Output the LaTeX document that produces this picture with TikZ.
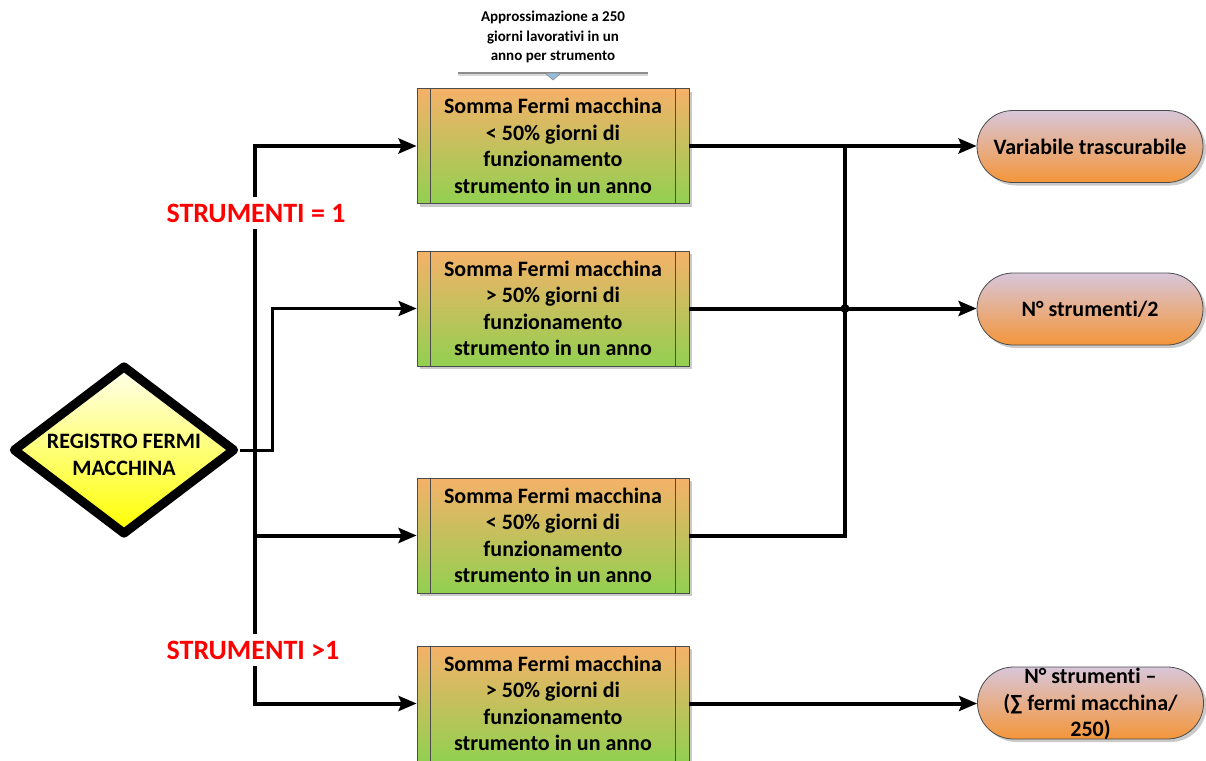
\documentclass[tikz,border=0pt]{standalone}
\usepackage{fontspec}
\setmainfont{Carlito}[Ligatures={NoCommon,NoContextual,NoRare}]
\usetikzlibrary{arrows.meta,shapes.geometric,shadows,calc}

\definecolor{procTop}{RGB}{245,177,105}
\definecolor{procBot}{RGB}{146,208,80}
\definecolor{termTop}{RGB}{216,198,218}
\definecolor{termBot}{RGB}{244,150,58}
\definecolor{decTop}{RGB}{255,255,238}
\definecolor{decBot}{RGB}{255,255,0}
\definecolor{labred}{RGB}{255,0,0}
\definecolor{calloutblue}{RGB}{150,188,222}

\begin{document}
\begin{tikzpicture}[x=1pt,y=-1pt,
  font=\bfseries\fontsize{22}{26.5}\selectfont,
  boxshadow/.style={drop shadow={shadow xshift=3pt,shadow yshift=-3pt,fill=black!35,opacity=0.6}},
  proc/.style={rectangle,draw=black!70,line width=0.8pt,top color=procTop,bottom color=procBot,
    minimum width=272pt,minimum height=115pt,align=center,inner sep=0pt,boxshadow},
  term/.style={rectangle,rounded corners=36pt,draw=black!70,line width=0.8pt,top color=termTop,
    bottom color=termBot,minimum width=226pt,minimum height=72pt,text height=0pt,text depth=0pt,
    inner sep=0pt,boxshadow},
  decision/.style={diamond,draw=black,line width=9pt,line join=round,top color=decTop,bottom color=decBot,
    minimum width=223pt,minimum height=170pt,inner sep=0pt,
    drop shadow={shadow xshift=2pt,shadow yshift=-3pt,fill=black!30,opacity=0.5}},
  txt/.style={align=center,inner sep=0pt},
  lab/.style={font=\bfseries\fontsize{28}{32}\selectfont,text=labred,fill=white,inner xsep=2pt,inner ysep=7pt},
  link/.style={line width=4pt,draw=black},
  thinlink/.style={line width=3pt,draw=black},
  tip/.style={-{Stealth[length=18pt,width=15pt,inset=3pt]}},
  inner/.style={draw=black!70,line width=0.8pt}]

\useasboundingbox (0,0) rectangle (1206,760);

% process boxes
\node[proc] (p1) at (553,146)   {Somma Fermi macchina\\< 50\% giorni di\\funzionamento\\strumento in un anno};
\node[proc] (p2) at (553,308.5) {Somma Fermi macchina\\> 50\% giorni di\\funzionamento\\strumento in un anno};
\node[proc] (p3) at (553,535.5) {Somma Fermi macchina\\< 50\% giorni di\\funzionamento\\strumento in un anno};
\node[proc] (p4) at (553,703.5) {Somma Fermi macchina\\> 50\% giorni di\\funzionamento\\strumento in un anno};
\foreach \p in {p1,p2,p3,p4}{
  \draw[inner] ($(\p.north west)+(14,0)$) -- ($(\p.south west)+(14,0)$);
  \draw[inner] ($(\p.north east)+(-14,0)$) -- ($(\p.south east)+(-14,0)$);
}

% terminators
\node[term] (t1) at (1090,146.5) {};
\node[txt] (t1txt) at (t1) {Variabile trascurabile};
\node[term] (t2) at (1090,309) {};
\node[txt] (t2txt) at (t2) {N° strumenti/2};
\node[term] (t3) at (1090.5,703) {};
\node[txt] (t3txt) at (1090.5,704) {N° strumenti –\\(∑ fermi macchina/\\250)};

% decision
\node[decision] (d) at (124,450) {};
\node[txt] (dtxt) at (124,455) {REGISTRO FERMI\\MACCHINA};

% callout above the first box
\node[txt,font=\bfseries\fontsize{15}{19.5}\selectfont] (note) at (553,37)
  {Approssimazione a 250\\giorni lavorativi in un\\anno per strumento};
\coordinate (cl) at (458,73);
\coordinate (cr) at (648,73);
\draw[black!45,line width=1.2pt] (cl) -- (cr);
\draw[black!15,line width=1.2pt] ($(cl)+(0,2)$) -- ($(cr)+(0,2)$);
\filldraw[fill=calloutblue,draw=black!45,line width=0.6pt] (545,73) -- (561,73) -- (553,80) -- cycle;

% left connectors
\coordinate (trunk) at (255,0);
\coordinate (bend) at (272,0);
\draw[link,{Stealth[length=18pt,width=15pt,inset=3pt]}-{Stealth[length=18pt,width=15pt,inset=3pt]}]
  (p1.west) -| (trunk |- p4.west) -- (p4.west);
\draw[link,tip] (trunk |- p3.west) -- (p3.west);
\draw[thinlink,tip] (d.east) -- (d.east -| bend) |- (p2.west);

% right connectors
\coordinate (mx) at (845,0);
\draw[link] (p3.east) -| (mx |- p1.east);
\draw[link,tip] (p1.east) -- (p1.east -| t1.west);
\draw[link,tip] (p2.east) -- (p2.east -| t2.west);
\fill (mx |- p2.east) circle (4.5pt);
\draw[link,tip] (p4.east) -- (p4.east -| t3.west);

% branch labels
\node[lab] (lab1) at (256,213) {STRUMENTI = 1};
\node[lab] (lab2) at (253,650) {STRUMENTI >1};
\end{tikzpicture}
\end{document}
